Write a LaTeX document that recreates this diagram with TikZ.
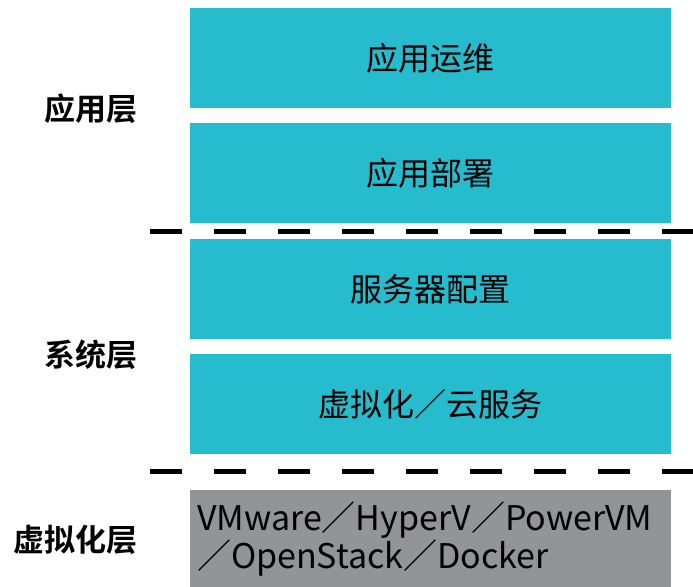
\documentclass[tikz,border=0pt]{standalone}
\usepackage{fontspec}
\setmainfont{Noto Sans CJK SC}[BoldFont={Noto Sans CJK SC Bold}]
\usetikzlibrary{positioning, calc}
\definecolor{layerteal}{RGB}{38,188,206}
\definecolor{layergray}{RGB}{147,148,152}
\tikzset{
	opsbox/.style={fill=layerteal, minimum width=481pt, minimum height=100pt, inner sep=0pt, font=\fontsize{32}{38}\selectfont},
	virtbox/.style={fill=layergray, minimum width=481pt, minimum height=98pt, inner xsep=7pt, inner ysep=0pt, text width=467pt, align=left, font=\fontsize{34}{38}\selectfont},
	layername/.style={anchor=east, inner sep=0pt, font=\fontsize{31}{36}\selectfont\bfseries},
	cutline/.style={line width=5pt, dash pattern=on 32pt off 32pt}
}

\begin{document}
\begin{tikzpicture}[x=1pt, y=-1pt]
		\useasboundingbox (0,0) rectangle (693,586);
		
		\node[opsbox]		(appops)		at	(430.5,58)		{应用运维};
		\node[opsbox]		(appdeploy)		at	(430.5,173)		{应用部署};
		\node[opsbox]		(srvconf)		at	(430.5,289)		{服务器配置};
		\node[opsbox]		(virtcloud)		at	(430.5,404)		{虚拟化／云服务};
		\node[virtbox]		(hypervisors)	at	(430.5,539)		{VMware／HyperV／PowerVM\\／OpenStack／Docker};
		
		\node[layername]	(applayer)		at	(138,109)		{应用层};
		\node[layername]	(syslayer)		at	(138,355)		{系统层};
		\node[layername]	(virtlayer)		at	(138,540)		{虚拟化层};
		
		\coordinate		(cutAleft)		at	(150,231);
		\coordinate		(cutAright)		at	(694,231);
		\coordinate		(cutBleft)		at	(150,471);
		\coordinate		(cutBright)		at	(694,471);
		\draw[cutline] (cutAleft) -- (cutAright);
		\draw[cutline] (cutBleft) -- (cutBright);
	\end{tikzpicture}
\end{document}
